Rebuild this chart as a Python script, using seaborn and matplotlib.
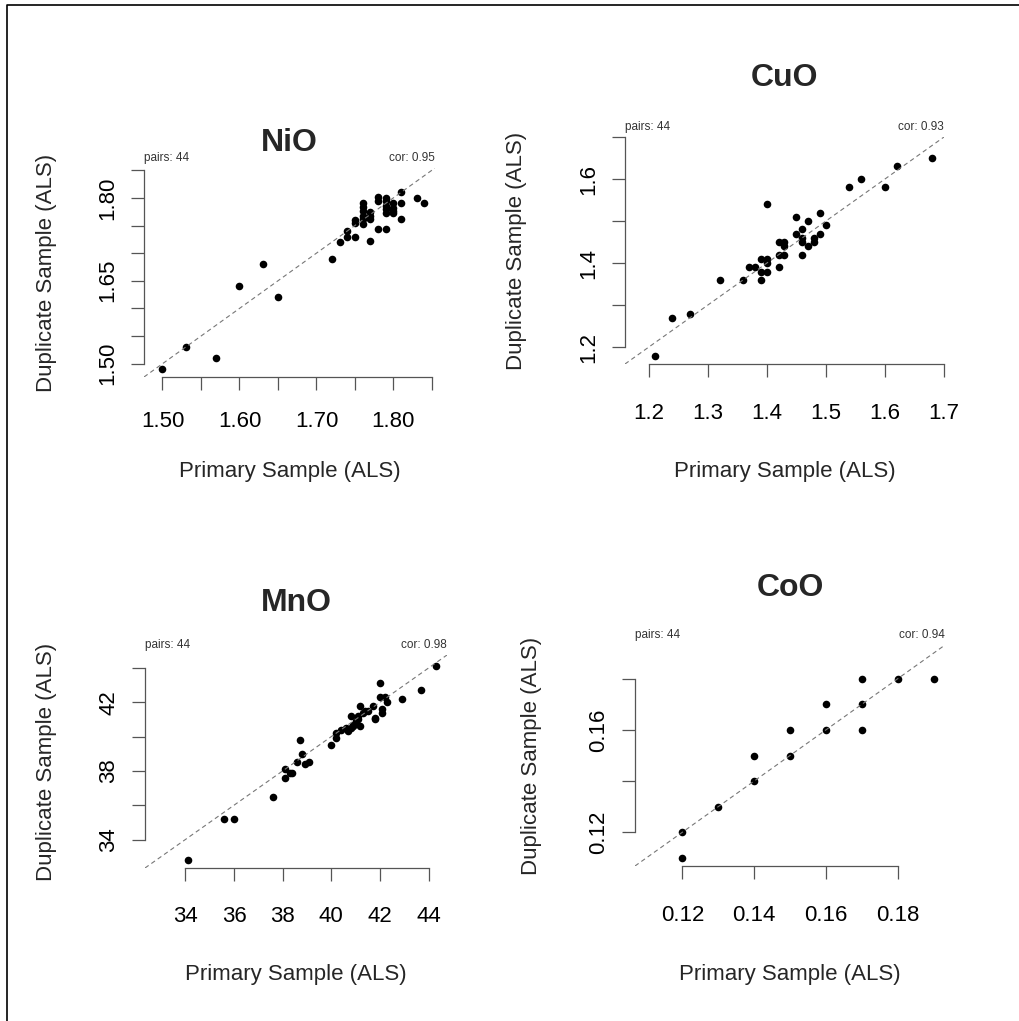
import matplotlib
matplotlib.use("Agg")
import matplotlib.pyplot as plt
import seaborn as sns
import pandas as pd
from matplotlib.lines import Line2D

# ---- data (primary vs duplicate assays) ----
nio_primary = [1.50, 1.53, 1.57, 1.60, 1.63, 1.65, 1.72, 1.73, 1.74, 1.74, 1.75, 1.75, 1.75,
               1.76, 1.76, 1.76, 1.76, 1.76, 1.76, 1.77, 1.77, 1.77, 1.77,
               1.78, 1.78, 1.78, 1.79, 1.79, 1.79, 1.79, 1.79, 1.79,
               1.80, 1.80, 1.80, 1.80, 1.81, 1.81, 1.81, 1.83, 1.84]
nio_duplicate = [1.49, 1.53, 1.51, 1.64, 1.68, 1.62, 1.69, 1.72, 1.74, 1.73, 1.73, 1.76, 1.755,
                 1.79, 1.783, 1.776, 1.768, 1.761, 1.752, 1.774, 1.768, 1.761, 1.722,
                 1.802, 1.794, 1.743, 1.80, 1.794, 1.785, 1.779, 1.772, 1.743,
                 1.791, 1.782, 1.776, 1.772, 1.811, 1.791, 1.762, 1.80, 1.79]

cuo_primary = [1.21, 1.24, 1.27, 1.32, 1.36, 1.37, 1.38, 1.39, 1.39, 1.39, 1.40, 1.40, 1.40,
               1.40, 1.42, 1.42, 1.42, 1.43, 1.43, 1.43, 1.45, 1.45, 1.46, 1.46, 1.46,
               1.46, 1.47, 1.47, 1.48, 1.48, 1.49, 1.49, 1.50, 1.54, 1.56, 1.60, 1.62, 1.68]
cuo_duplicate = [1.18, 1.27, 1.28, 1.36, 1.36, 1.39, 1.39, 1.38, 1.36, 1.41, 1.41, 1.40, 1.38,
                 1.54, 1.39, 1.42, 1.45, 1.45, 1.44, 1.42, 1.51, 1.47, 1.48, 1.46, 1.45,
                 1.42, 1.50, 1.44, 1.46, 1.45, 1.52, 1.47, 1.49, 1.58, 1.60, 1.58, 1.63, 1.65]

mno_primary = [34.1, 35.6, 36.0, 37.6, 38.1, 38.1, 38.3, 38.4, 38.6, 38.7, 38.8, 38.9, 39.1,
               40.0, 40.2, 40.2, 40.4, 40.6, 40.7, 40.8, 40.8, 40.9, 40.9, 41.0, 41.0,
               41.1, 41.1, 41.2, 41.2, 41.3, 41.4, 41.5, 41.7, 41.8, 41.8, 42.0, 42.0,
               42.2, 42.1, 42.1, 42.3, 42.9, 43.7, 44.3]
mno_duplicate = [32.8, 35.2, 35.2, 36.5, 37.6, 38.1, 37.9, 37.9, 38.5, 39.8, 39.0, 38.4, 38.5,
                 39.5, 39.9, 40.2, 40.4, 40.5, 40.3, 40.5, 41.2, 40.6, 40.7, 40.8, 40.9,
                 41.0, 41.2, 41.8, 40.6, 41.4, 41.5, 41.5, 41.8, 41.1, 41.0, 43.1, 42.3,
                 42.3, 41.6, 41.4, 42.0, 42.2, 42.7, 44.1]

coo_primary = [0.12, 0.12, 0.13, 0.14, 0.14, 0.15, 0.15, 0.16, 0.16, 0.17, 0.17, 0.17, 0.18, 0.19]
coo_duplicate = [0.12, 0.11, 0.13, 0.14, 0.15, 0.15, 0.16, 0.16, 0.17, 0.17, 0.16, 0.18, 0.18, 0.18]

# tick positions and labels (R style: some labels dropped)
nio_ticks = [1.50, 1.55, 1.60, 1.65, 1.70, 1.75, 1.80, 1.85]
nio_xlabels = ["1.50", "", "1.60", "", "1.70", "", "1.80", ""]
nio_ylabels = ["1.50", "", "", "1.65", "", "", "1.80", ""]
cuo_ticks = [1.2, 1.3, 1.4, 1.5, 1.6, 1.7]
cuo_xlabels = ["1.2", "1.3", "1.4", "1.5", "1.6", "1.7"]
cuo_ylabels = ["1.2", "", "1.4", "", "1.6", ""]
mno_ticks = [34, 36, 38, 40, 42, 44]
mno_xlabels = ["34", "36", "38", "40", "42", "44"]
mno_ylabels = ["34", "", "38", "", "42", ""]
coo_ticks = [0.12, 0.14, 0.16, 0.18]
coo_xlabels = ["0.12", "0.14", "0.16", "0.18"]
coo_ylabels = ["0.12", "", "0.16", ""]

pairs_text = ["pairs: 44", "pairs: 44", "pairs: 44", "pairs: 44"]
cor_text = ["cor: 0.95", "cor: 0.93", "cor: 0.98", "cor: 0.94"]

W, H = 1019, 1021

panels = [
    # title, x, y, ticks, xlabels, ylabels, box (l, t, r, b px), title pad, ylabel x px, xtick pad, xlabel top px
    ("NiO", nio_primary, nio_duplicate, nio_ticks, nio_xlabels, nio_ylabels, (144, 168, 435, 377), 12, 57, 15, 461),
    ("CuO", cuo_primary, cuo_duplicate, cuo_ticks, cuo_xlabels, cuo_ylabels, (625, 137, 944, 364), 36.5, 527, 18.5, 461),
    ("MnO", mno_primary, mno_duplicate, mno_ticks, mno_xlabels, mno_ylabels, (145, 655, 447, 868), 32, 57, 18, 964),
    ("CoO", coo_primary, coo_duplicate, coo_ticks, coo_xlabels, coo_ylabels, (635, 645, 945, 866), 35, 542, 18.5, 964),
]

sns.set_style("ticks")
plt.rcParams["font.family"] = ["Liberation Sans", "DejaVu Sans"]

fig = plt.figure(figsize=(W / 100, H / 100), dpi=100)

for i, (name, xs, ys, ticks, xl, yl, box, tpad, ylab_x, xpad, xlab_top) in enumerate(panels):
    l, t, r, b = box
    ax = fig.add_axes([l / W, 1 - b / H, (r - l) / W, (b - t) / H])
    df = pd.DataFrame({"primary": xs, "duplicate": ys})
    sns.scatterplot(data=df, x="primary", y="duplicate", ax=ax, color="black",
                    s=30, linewidth=0)

    # common limits for both axes, R-style 4% expansion
    lo = min(min(xs), min(ys))
    hi = max(max(xs), max(ys))
    pad = (hi - lo) * 0.04
    ax.set_xlim(lo - pad, hi + pad)
    ax.set_ylim(lo - pad, hi + pad)
    ax.axline((lo, lo), slope=1, color="#777777", linestyle=(0, (4, 3)), linewidth=0.8)

    ax.set_xticks(ticks)
    ax.set_xticklabels(xl)
    ax.set_yticks(ticks)
    ax.set_yticklabels(yl, rotation=90, va="center")
    ax.tick_params(direction="out", length=9.5, width=0.9, color="#555555",
                   labelsize=16, labelcolor="black")
    ax.tick_params(axis="x", pad=xpad)
    ax.tick_params(axis="y", pad=9)
    for sp in ax.spines.values():
        sp.set_color("#555555")
        sp.set_linewidth(0.9)
    sns.despine(ax=ax, trim=True)

    ax.set_title(name, fontsize=23, fontweight="bold", pad=tpad)
    ax.set_xlabel("Primary Sample (ALS)", fontsize=16)
    ax.set_ylabel("Duplicate Sample (ALS)", fontsize=16)
    ax.xaxis.set_label_coords((l + r) / 2 / W, 1 - xlab_top / H, transform=fig.transFigure)
    ax.yaxis.set_label_coords(ylab_x / W, 1 - (t + b) / 2 / H, transform=fig.transFigure)

    ax.annotate(pairs_text[i], xy=(0, 1), xycoords="axes fraction", xytext=(0, 3),
                textcoords="offset points", ha="left", va="bottom", fontsize=8.5, color="#333333")
    ax.annotate(cor_text[i], xy=(1, 1), xycoords="axes fraction", xytext=(0, 3),
                textcoords="offset points", ha="right", va="bottom", fontsize=8.5, color="#333333")

# frame lines on the left and top edges of the image
fig.lines.append(Line2D([7 / W, 7 / W, 1.0], [0, 1 - 5 / H, 1 - 5 / H], transform=fig.transFigure,
                        color="black", linewidth=1.2))

fig.savefig("out.png", dpi=100)
